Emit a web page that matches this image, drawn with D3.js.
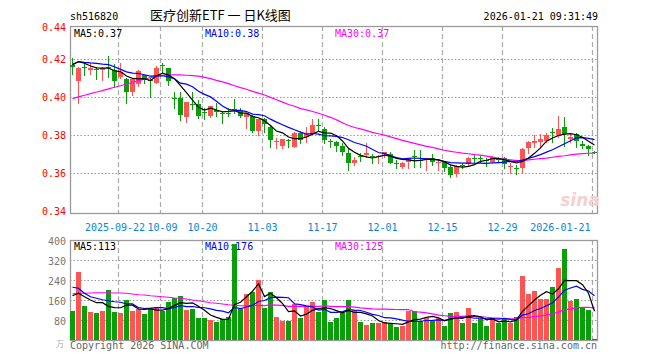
<!DOCTYPE html>
<html><head><meta charset="utf-8">
<script src="https://cdn.jsdelivr.net/npm/d3@7"></script>
<style>html,body{margin:0;padding:0;background:#fff;}svg{display:block;}</style>
</head><body>
<svg id="c" width="660" height="360"></svg>
<script>
// ---------------- data ----------------
const code = "sh516820";
const title = "医疗创新ETF 一 日K线图";
const stamp = "2026-01-21 09:31:49";
const tickIdx = [8, 15, 22, 32, 42, 52, 62, 72, 87];
const tickLabels = ["2025-09-22","10-09","10-20","11-03","11-17","12-01","12-15","12-29","2026-01-21"];
const priceGrid = [0.42, 0.40, 0.38, 0.36];
const priceLabels = ["0.44","0.42","0.40","0.38","0.36","0.34"];
const volGrid = [320, 240, 160, 80];
const volLabels = ["400","320","240","160","80"];
const priceLegend = ["MA5:0.37","MA10:0.38","MA30:0.37"];
const volLegend = ["MA5:113","MA10:176","MA30:125"];

const opens = [0.4172,0.4088,0.4160,0.4145,0.4150,0.4146,0.4158,0.4144,0.4109,0.4095,
0.4030,0.4070,0.4118,0.4090,0.4077,0.4168,0.4154,0.3997,0.3995,0.3898,
0.3967,0.3965,0.3922,0.3904,0.3932,0.3917,0.3918,0.3941,0.3930,0.3898,
0.3904,0.3825,0.3884,0.3846,0.3765,0.3745,0.3777,0.3740,0.3814,0.3793,
0.3807,0.3852,0.3832,0.3772,0.3765,0.3746,0.3705,0.3656,0.3690,0.3696,
0.3690,0.3684,0.3702,0.3702,0.3655,0.3632,0.3658,0.3690,0.3672,0.3670,
0.3682,0.3658,0.3659,0.3635,0.3595,0.3645,0.3647,0.3681,0.3680,0.3672,
0.3661,0.3677,0.3679,0.3633,0.3628,0.3630,0.3733,0.3760,0.3767,0.3772,
0.3818,0.3802,0.3846,0.3779,0.3805,0.3752,0.3746,0.3713];
const highs = [0.4205,0.4158,0.4178,0.4183,0.4158,0.4162,0.4218,0.4175,0.4179,0.4100,
0.4100,0.4145,0.4120,0.4100,0.4165,0.4180,0.4156,0.4030,0.4027,0.3976,
0.4026,0.3986,0.3942,0.3956,0.3970,0.3925,0.3942,0.3990,0.3942,0.3919,
0.3906,0.3886,0.3890,0.3848,0.3784,0.3782,0.3779,0.3816,0.3820,0.3846,
0.3884,0.3884,0.3846,0.3779,0.3768,0.3758,0.3726,0.3688,0.3709,0.3758,
0.3702,0.3697,0.3714,0.3714,0.3670,0.3658,0.3682,0.3723,0.3723,0.3680,
0.3700,0.3670,0.3665,0.3644,0.3644,0.3653,0.3688,0.3697,0.3693,0.3679,
0.3691,0.3688,0.3688,0.3653,0.3646,0.3735,0.3768,0.3802,0.3805,0.3811,
0.3837,0.3904,0.3895,0.3811,0.3811,0.3770,0.3751,0.3720];
const lows = [0.4125,0.3972,0.4118,0.4125,0.4098,0.4090,0.4105,0.4056,0.4100,0.3972,
0.4012,0.4062,0.4075,0.4004,0.4074,0.4135,0.4065,0.3942,0.3881,0.3872,
0.3937,0.3890,0.3884,0.3898,0.3902,0.3863,0.3902,0.3916,0.3898,0.3837,
0.3819,0.3802,0.3819,0.3740,0.3732,0.3735,0.3740,0.3738,0.3758,0.3767,
0.3805,0.3828,0.3758,0.3740,0.3719,0.3697,0.3618,0.3644,0.3667,0.3688,
0.3653,0.3653,0.3688,0.3653,0.3626,0.3626,0.3630,0.3635,0.3632,0.3618,
0.3644,0.3618,0.3612,0.3579,0.3588,0.3630,0.3644,0.3661,0.3661,0.3640,
0.3658,0.3658,0.3630,0.3600,0.3595,0.3600,0.3708,0.3740,0.3740,0.3763,
0.3767,0.3793,0.3745,0.3767,0.3740,0.3732,0.3697,0.3705];
const closes = [0.4162,0.4155,0.4156,0.4156,0.4146,0.4156,0.4152,0.4088,0.4135,0.4030,
0.4095,0.4139,0.4090,0.4087,0.4155,0.4164,0.4088,0.3993,0.3905,0.3974,
0.3963,0.3904,0.3920,0.3955,0.3925,0.3914,0.3915,0.3936,0.3902,0.3916,
0.3825,0.3884,0.3858,0.3775,0.3769,0.3779,0.3773,0.3814,0.3775,0.3814,
0.3854,0.3848,0.3775,0.3768,0.3746,0.3714,0.3656,0.3670,0.3686,0.3705,
0.3686,0.3690,0.3712,0.3656,0.3650,0.3656,0.3679,0.3686,0.3668,0.3679,
0.3661,0.3661,0.3630,0.3591,0.3640,0.3642,0.3679,0.3677,0.3677,0.3668,
0.3688,0.3674,0.3649,0.3636,0.3624,0.3730,0.3766,0.3769,0.3779,0.3802,
0.3812,0.3833,0.3805,0.3793,0.3771,0.3746,0.3726,0.3710];
const volumes = [117,273,136,112,108,117,200,112,108,160,
117,123,104,123,132,117,153,168,176,120,
124,88,88,80,73,83,91,385,123,184,
192,240,129,192,92,77,77,144,89,131,
152,113,160,73,89,109,160,120,73,60,
68,68,72,64,53,56,117,116,76,89,
76,87,56,108,113,69,128,69,83,56,
87,69,83,69,93,257,185,196,164,164,
212,289,364,157,164,131,120,4];

// moving-average values before enough in-window history exists
const ma5Head = [0.4170,0.4188,0.4179,0.4165];
const ma10Head = [0.4174,0.4188,0.4184,0.4181,0.4179,0.4175,0.4172,0.4161,0.4147];
const ma30Head = [0.3993,0.4002,0.4011,0.4019,0.4028,0.4035,0.4044,0.4053,0.4061,0.4070,
0.4079,0.4088,0.4095,0.4104,0.4111,0.4116,0.4118,0.4118,0.4118,0.4116,
0.4114,0.4111,0.4105,0.4098,0.4089,0.4081,0.4072,0.4061,0.4051];
const vma5Head = [177,187,173,160];
const vma10Head = [211,207,187,173,167,161,157,153,151];
const vma30Head = [185,187,187,188,189,189,189,188,188,187,184,181,180,177,175,173,171,168,167,164,
160,157,153,149,147,144,141,139,137];

// ---------------- drawing ----------------
const svg = d3.select("#c");
const N = closes.length;
const L = 70, R = 597, mainTop = 26, mainBot = 213, volTop = 240, volBot = 340;
const RED = "#ff5454", GREEN = "#0a9f0a";
const MONO = "'DejaVu Sans Mono', monospace";

const x = d3.scaleLinear().domain([0, N - 1]).range([L, L + 6 * (N - 1)]);
const bw = 5;
const xc = i => x(i) + bw / 2;
const yP = d3.scaleLinear().domain([0.36, 0.42]).range([173.3, 59.3]);
const yV = d3.scaleLinear().domain([0, 400]).range([volBot, volTop]);

svg.append("rect").attr("width", 660).attr("height", 360).attr("fill", "#fff");

function ma(arr, n, head) {
  return arr.map((_, i) => i >= n - 1 ? d3.mean(arr.slice(i - n + 1, i + 1)) : head[i]);
}

// grids
const g = svg.append("g");
[[mainTop, mainBot], [volTop, volBot]].forEach(([t, b]) => {
  tickIdx.forEach(i => {
    g.append("line").attr("x1", Math.round(x(i)) + 0.5).attr("x2", Math.round(x(i)) + 0.5)
      .attr("y1", t).attr("y2", b).attr("stroke", "#aaa").attr("stroke-width", 1.2)
      .attr("stroke-dasharray", "5,3");
  });
});
priceGrid.forEach(v => {
  const yy = Math.round(yP(v)) + 0.5;
  g.append("line").attr("x1", L).attr("x2", R).attr("y1", yy).attr("y2", yy)
    .attr("stroke", "#999").attr("stroke-dasharray", "1.5,2");
});
volGrid.forEach(v => {
  const yy = Math.round(yV(v)) + 0.5;
  g.append("line").attr("x1", L).attr("x2", R).attr("y1", yy).attr("y2", yy)
    .attr("stroke", "#999").attr("stroke-dasharray", "1.5,2");
});
// frames
g.append("rect").attr("x", L + 0.5).attr("y", mainTop + 0.5).attr("width", R - L).attr("height", mainBot - mainTop)
  .attr("fill", "none").attr("stroke", "#9a9a9a").attr("stroke-width", 1.3);
g.append("rect").attr("x", L + 0.5).attr("y", volTop + 0.5).attr("width", R - L).attr("height", volBot - volTop)
  .attr("fill", "none").attr("stroke", "#9a9a9a").attr("stroke-width", 1.3);

// watermark
svg.append("text").attr("x", 580).attr("y", 206).attr("text-anchor", "middle")
  .attr("font-family", "'DejaVu Sans', sans-serif").attr("font-style", "italic").attr("font-weight", "bold")
  .attr("font-size", 17).attr("fill", "#f7cfcf").text("sina");

// legends
const legX = [74, 205, 335];
const legC = ["#000", "#0000ff", "#ff00ff"];
priceLegend.forEach((t, k) => svg.append("text").attr("x", legX[k]).attr("y", 37)
  .attr("font-family", MONO).attr("font-size", 10).attr("fill", legC[k]).text(t));
volLegend.forEach((t, k) => svg.append("text").attr("x", legX[k]).attr("y", 250)
  .attr("font-family", MONO).attr("font-size", 10).attr("fill", legC[k]).text(t));

const up = i => closes[i] > opens[i];

// volume bars
svg.append("g").selectAll("rect").data(volumes).join("rect")
  .attr("x", (d, i) => x(i)).attr("width", bw)
  .attr("y", d => Math.round(yV(d))).attr("height", d => volBot - Math.round(yV(d)))
  .attr("fill", (d, i) => up(i) ? RED : GREEN);

// candles
const cg = svg.append("g");
closes.forEach((c, i) => {
  const col = up(i) ? RED : GREEN;
  const cx = Math.floor(xc(i)) + 0.5;
  cg.append("line").attr("x1", cx).attr("x2", cx)
    .attr("y1", Math.round(yP(highs[i]))).attr("y2", Math.round(yP(lows[i])) + 1)
    .attr("stroke", col).attr("stroke-width", 1);
  const top = Math.round(yP(Math.max(opens[i], c)));
  const bot = Math.round(yP(Math.min(opens[i], c)));
  cg.append("rect").attr("x", x(i)).attr("width", bw)
    .attr("y", top).attr("height", Math.max(1, bot - top)).attr("fill", col);
});

// MA lines
const lineP = d3.line().x((d, i) => xc(i)).y(d => yP(d));
const lineV = d3.line().x((d, i) => xc(i)).y(d => yV(d));
[[ma(closes, 30, ma30Head), "#ff00ff"], [ma(closes, 10, ma10Head), "#0000ff"], [ma(closes, 5, ma5Head), "#000"]]
  .forEach(([d, c]) => svg.append("path").attr("d", lineP(d)).attr("fill", "none").attr("stroke", c).attr("stroke-width", 1.2));
[[ma(volumes, 30, vma30Head), "#ff00ff"], [ma(volumes, 10, vma10Head), "#0000ff"], [ma(volumes, 5, vma5Head), "#000"]]
  .forEach(([d, c]) => svg.append("path").attr("d", lineV(d)).attr("fill", "none").attr("stroke", c).attr("stroke-width", 1.2));

// axis labels
priceLabels.forEach(t => {
  const v = +t;
  const yy = Math.min(Math.max(yP(v), mainTop + 1), mainBot + 2);
  svg.append("text").attr("x", 66).attr("y", yy).attr("dy", "0.35em").attr("text-anchor", "end")
    .attr("font-family", MONO).attr("font-size", 10).attr("fill", "#f00").text(t);
});
volLabels.forEach(t => {
  svg.append("text").attr("x", 66).attr("y", yV(+t) + 1).attr("dy", "0.35em").attr("text-anchor", "end")
    .attr("font-family", MONO).attr("font-size", 10).attr("fill", "#777").text(t);
});
// date labels; the first two are nudged apart so they do not collide
const nudge = [-3.5, 2, 0, 0, 0, 0, 0, 0, 0];
tickIdx.forEach((i, k) => {
  const last = k === tickIdx.length - 1;
  svg.append("text").attr("x", last ? Math.round(x(i)) - 1.5 : Math.round(x(i)) + 0.5 + nudge[k]).attr("y", 231)
    .attr("text-anchor", last ? "end" : "middle")
    .attr("font-family", MONO).attr("font-size", 10).attr("fill", "#0a84d8").text(tickLabels[k]);
});

// header & footer
svg.append("text").attr("x", 70).attr("y", 20).attr("font-family", MONO).attr("font-size", 10).attr("fill", "#000").text(code);
svg.append("text").attr("x", 150).attr("y", 20).attr("font-family", "'Noto Sans CJK SC', sans-serif").attr("font-size", 13).attr("fill", "#000").text(title);
svg.append("text").attr("x", 598).attr("y", 20).attr("text-anchor", "end").attr("font-family", MONO).attr("font-size", 10).attr("fill", "#000").text(stamp);
svg.append("text").attr("x", 70).attr("y", 349).attr("font-family", MONO).attr("font-size", 10).attr("fill", "#666").text("Copyright 2026 SINA.COM");
svg.append("text").attr("x", 597).attr("y", 349).attr("text-anchor", "end").attr("font-family", MONO).attr("font-size", 10).attr("fill", "#666").text("http://finance.sina.com.cn");
svg.append("text").attr("x", 56).attr("y", 347).attr("font-family", "'Noto Sans CJK SC', sans-serif").attr("font-size", 8).attr("fill", "#aaa").text("万");
</script>
</body></html>
